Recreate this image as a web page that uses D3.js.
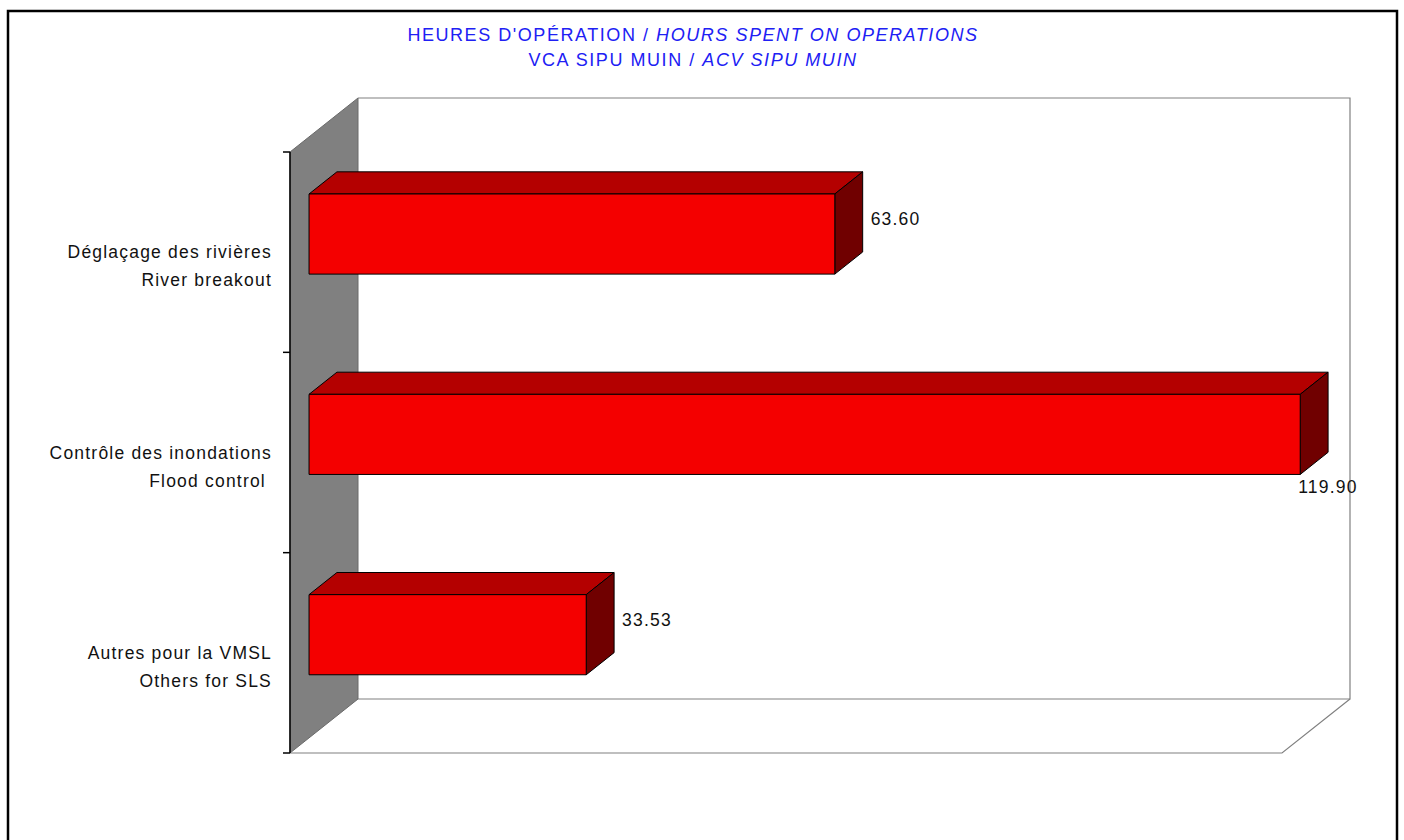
<!DOCTYPE html>
<html>
<head>
<meta charset="utf-8">
<script src="https://cdn.jsdelivr.net/npm/d3@7"></script>
<style>
  html, body { margin: 0; padding: 0; background: #ffffff; }
  svg { display: block; }
  text { font-family: "Liberation Sans", Arial, sans-serif; }
</style>
</head>
<body>
<svg id="chart" width="1404" height="840"></svg>
<script>
// Hours spent on operations, by activity
const categoriesFr = ["Déglaçage des rivières", "Contrôle des inondations", "Autres pour la VMSL"];
const categoriesEn = ["River breakout", "Flood control ", "Others for SLS"];
const hours = [63.60, 119.90, 33.53];
const valueLabels = ["63.60", "119.90", "33.53"];

const titleLine1 = ["HEURES D'OPÉRATION / ", "HOURS SPENT ON OPERATIONS"];
const titleLine2 = ["VCA SIPU MUIN / ", "ACV SIPU MUIN"];

const svg = d3.select("#chart");

// Outer frame
svg.append("rect")
  .attr("x", 8).attr("y", 11).attr("width", 1389).attr("height", 850)
  .attr("fill", "none").attr("stroke", "#000").attr("stroke-width", 2.5);

// Plot geometry (front plane) and the depth of the 3D box
const plotL = 290, plotR = 1282, plotT = 152, plotB = 753;
const depthX = 68, depthY = 54;

const x = d3.scaleLinear().domain([0, 120]).range([plotL, plotR]);
const y = d3.scaleBand().domain(categoriesFr).range([plotT, plotB]).padding(0);

// Project (screen x, screen y on front plane, depth fraction) to screen coords
const proj = (px, py, z) => [px + z * depthX, py - z * depthY];

const gray = "#808080";
const g = svg.append("g");

// Back wall outline
const bl = proj(plotL, plotT, 1), br = proj(plotR, plotT, 1);
const bbl = proj(plotL, plotB, 1), bbr = proj(plotR, plotB, 1);
g.append("path")
  .attr("d", `M${bl[0]},${bl[1]} L${br[0]},${br[1]} L${bbr[0]},${bbr[1]} L${bbl[0]},${bbl[1]}`)
  .attr("fill", "none").attr("stroke", gray).attr("stroke-width", 1.2);

// Left side wall
g.append("path")
  .attr("d", `M${plotL},${plotT} L${bl[0]},${bl[1]} L${bbl[0]},${bbl[1]} L${plotL},${plotB} Z`)
  .attr("fill", gray).attr("stroke", "#6a6a6a").attr("stroke-width", 1);

// Floor front edge and right edge
g.append("path")
  .attr("d", `M${plotL},${plotB} L${plotR},${plotB} L${bbr[0]},${bbr[1]}`)
  .attr("fill", "none").attr("stroke", gray).attr("stroke-width", 1.2);

// Category axis with ticks at band boundaries
const bounds = categoriesFr.map(c => y(c)).concat([plotB]);
g.append("line")
  .attr("x1", plotL).attr("x2", plotL).attr("y1", plotT).attr("y2", plotB)
  .attr("stroke", "#000").attr("stroke-width", 1.5);
g.selectAll("line.tick").data(bounds).join("line")
  .attr("class", "tick")
  .attr("x1", plotL - 7).attr("x2", plotL)
  .attr("y1", d => d).attr("y2", d => d)
  .attr("stroke", "#000").attr("stroke-width", 1.5);

// Category labels (two lines, French over English)
const labelFont = 17.5, labelSpacing = 1.2;
const catG = g.selectAll("g.cat").data(categoriesFr).join("g").attr("class", "cat");
catG.append("text")
  .attr("x", 272).attr("y", d => y(d) + y.bandwidth() / 2 + 6)
  .attr("text-anchor", "end")
  .attr("font-size", labelFont).attr("letter-spacing", labelSpacing)
  .attr("fill", "#111")
  .text(d => d);
catG.append("text")
  .attr("x", 272).attr("y", d => y(d) + y.bandwidth() / 2 + 34)
  .attr("text-anchor", "end")
  .attr("font-size", labelFont).attr("letter-spacing", labelSpacing)
  .attr("fill", "#111")
  .style("white-space", "pre")
  .text((d, i) => categoriesEn[i]);

// 3D bars
const z0 = 0.28, z1 = 0.69;
const barH = y.bandwidth() * 0.4;
const pts = a => a.map(p => p.join(",")).join(" ");

hours.forEach((v, i) => {
  const cy = y(categoriesFr[i]) + y.bandwidth() / 2 - 3;
  const yT = cy - barH / 2, yB = cy + barH / 2;
  const x0 = x(0), x1 = x(v);
  const fTL = proj(x0, yT, z0), fTR = proj(x1, yT, z0), fBR = proj(x1, yB, z0), fBL = proj(x0, yB, z0);
  const bTL = proj(x0, yT, z1), bTR = proj(x1, yT, z1), bBR = proj(x1, yB, z1);

  const bar = g.append("g").attr("class", "bar");
  bar.append("polygon").attr("points", pts([fTL, bTL, bTR, fTR]))
    .attr("fill", "#b40000").attr("stroke", "#000").attr("stroke-width", 1);
  bar.append("polygon").attr("points", pts([fTR, bTR, bBR, fBR]))
    .attr("fill", "#700000").attr("stroke", "#000").attr("stroke-width", 1);
  bar.append("polygon").attr("points", pts([fTL, fTR, fBR, fBL]))
    .attr("fill", "#f40000").attr("stroke", "#000").attr("stroke-width", 1);

  // Value label: beside the bar end, or below the corner when it does not fit
  const lbl = bar.append("text")
    .attr("font-size", labelFont).attr("letter-spacing", labelSpacing)
    .attr("fill", "#111")
    .text(valueLabels[i]);
  const lx = bTR[0] + 8;
  const w = lbl.node().getComputedTextLength();
  if (lx + w > bbr[0]) {
    lbl.attr("x", fBR[0] - 2).attr("y", fBR[1] + 19);
  } else {
    lbl.attr("x", lx).attr("y", (bTR[1] + bBR[1]) / 2 + 13);
  }
});

// Title
const title = svg.append("g").attr("fill", "#2020f4")
  .attr("font-size", 18).attr("letter-spacing", 1.55);
[[titleLine1, 41], [titleLine2, 66]].forEach(([parts, ty]) => {
  const t = title.append("text").attr("x", 693).attr("y", ty).attr("text-anchor", "middle")
    .style("white-space", "pre");
  t.append("tspan").text(parts[0]);
  t.append("tspan").attr("font-style", "italic").text(parts[1]);
});
</script>
</body>
</html>
